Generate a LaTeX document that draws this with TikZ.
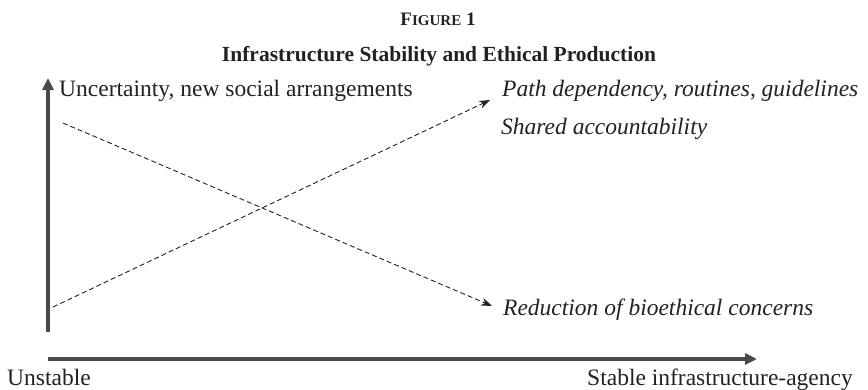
\documentclass[tikz,border=0pt]{standalone}
\usepackage{fontspec}
\setmainfont{Liberation Serif}
\usetikzlibrary{arrows.meta}
\definecolor{axisgray}{HTML}{4A4A4A}
\definecolor{inkgray}{HTML}{222222}
\tikzset{
  axisline/.style={draw=axisgray, line width=3.2pt, -{Triangle[length=12pt,width=11pt]}},
  trendline/.style={draw=inkgray, line width=0.9pt, dash pattern=on 5pt off 3pt, -{Stealth[length=11pt,width=8pt]}},
  itemtext/.style={inner sep=0pt, text=inkgray, font=\fontsize{23.5}{28}\selectfont},
  emtext/.style={itemtext, font=\fontsize{23.5}{28}\selectfont\itshape},
  titletext/.style={inner sep=0pt, text=inkgray, font=\fontsize{21.5}{26}\selectfont\bfseries},
}
\begin{document}
\begin{tikzpicture}[x=1pt, y=-1pt]
            \useasboundingbox (0,0) rectangle (868,389);

            % headings
            \node[titletext, anchor=base] (fignum) at (438,25) {\fontsize{19}{22}\selectfont F\fontsize{15}{18}\selectfont IGURE\fontsize{19}{22}\selectfont{} 1};
            \node[titletext, anchor=base] (title) at (439,61) {Infrastructure Stability and Ethical Production};

            % labels
            \node[itemtext, anchor=base west] (uncert) at (59,96) {Uncertainty, new social arrangements};
            \node[emtext, anchor=base west] (pathdep) at (502,96) {Path dependency, routines, guidelines};
            \node[emtext, anchor=base west] (shared) at (501,134) {Shared accountability};
            \node[emtext, anchor=base west] (reduct) at (503,315) {Reduction of bioethical concerns};
            \node[itemtext, anchor=base west] (unstable) at (7,385) {Unstable};
            \node[itemtext, anchor=base east] (stable) at (853,385) {Stable infrastructure-agency};

            % axes
            \coordinate (ybot) at (48,332);
            \coordinate (ytop) at (48,78);
            \coordinate (xleft) at (48,359);
            \coordinate (xright) at (757,359);
            \draw[axisline] (ybot) -- (ytop);
            \draw[axisline] (xleft) -- (xright);

            % trends
            \coordinate (riseS) at (53,307);
            \coordinate (riseE) at (490,100);
            \coordinate (fallS) at (63,123);
            \coordinate (fallE) at (492,306);
            \draw[trendline] (riseS) -- (riseE);
            \draw[trendline] (fallS) -- (fallE);
\end{tikzpicture}
\end{document}
